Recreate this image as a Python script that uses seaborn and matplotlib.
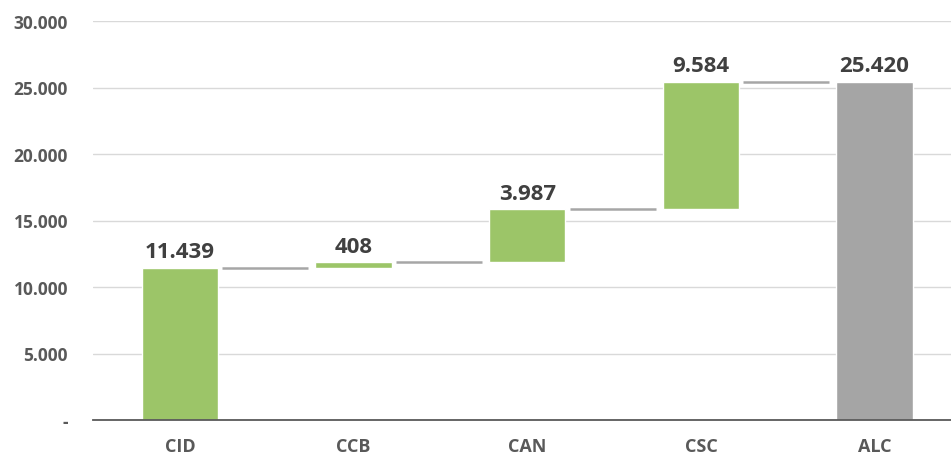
import matplotlib
matplotlib.use("Agg")
import matplotlib.pyplot as plt
import seaborn as sns
import pandas as pd
import numpy as np

# waterfall data
categories = ["CID", "CCB", "CAN", "CSC", "ALC"]
steps = [11439, 408, 3987, 9584]
total = 25420
y_ticks = [0, 5000, 10000, 15000, 20000, 25000, 30000]

green = "#9cc568"
grey = "#a5a5a5"

heights = steps + [total]
bases = list(np.cumsum([0] + steps[:-1])) + [0]
tops = [b + h for b, h in zip(bases, heights)]
df = pd.DataFrame({"cat": categories, "value": heights})


def fmt(v):
    return f"{v:,.0f}".replace(",", ".")


sns.set_style("white")
plt.rcParams["font.family"] = ["Open Sans", "DejaVu Sans"]

fig = plt.figure(figsize=(9.51, 4.6), dpi=100)
ax = fig.add_axes([93 / 951, 39 / 460, 1 - 93 / 951, 399 / 460])

sns.barplot(data=df, x="cat", y="value", hue="cat", legend=False,
            palette=[green] * 4 + [grey], width=0.44, saturation=1, ax=ax)

# shift floating bars up to their running base
for patch, base in zip(ax.patches, bases):
    patch.set_y(base)

# connectors between bars
half = 0.44 / 2
for i in range(len(categories) - 1):
    ax.plot([i + half + 0.025, i + 1 - half - 0.04], [tops[i], tops[i]],
            color="#a6a6a6", lw=1.8, solid_capstyle="butt", zorder=3)

# value labels
for i, (t, h) in enumerate(zip(tops, heights)):
    ax.annotate(fmt(h), (i, t), xytext=(0, 4), textcoords="offset points",
                ha="center", va="bottom", fontsize=16, fontweight="bold",
                color="#404040")

ax.set_ylim(0, 30000)
ax.set_xlim(-0.5, 4.44)
ax.set_yticks(y_ticks)
ax.set_yticklabels(["-"] + [fmt(v) for v in y_ticks[1:]])
ax.yaxis.grid(True, color="#d9d9d9", lw=1)
ax.set_axisbelow(True)
ax.set_xlabel("")
ax.set_ylabel("")
sns.despine(ax=ax, left=True, top=True, right=True)
ax.spines["bottom"].set_color("#595959")
ax.spines["bottom"].set_linewidth(1.3)
ax.tick_params(axis="y", length=0, labelsize=12.5, labelcolor="#595959", pad=18)
ax.tick_params(axis="x", length=0, labelsize=13, labelcolor="#595959", pad=12)
for lbl in ax.get_xticklabels() + ax.get_yticklabels():
    lbl.set_fontweight("bold")

fig.savefig("out.png", dpi=100)
